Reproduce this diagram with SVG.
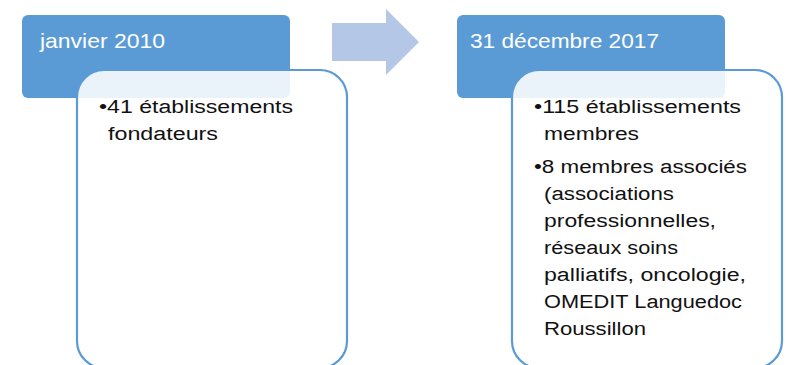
<svg xmlns="http://www.w3.org/2000/svg" width="787" height="365" viewBox="0 0 787 365">
  <style>
    .hdr { fill: #5B9BD5; }
    .box { fill: #FFFFFF; fill-opacity: 0.88; stroke: #5B9BD5; stroke-width: 2.2; }
    .ht { font-family: "Liberation Sans", Arial, sans-serif; font-size: 21px; fill: #FFFFFF; }
    .bt { font-family: "Liberation Sans", Arial, sans-serif; font-size: 18px; fill: #111111; }
    .arrow { fill: #B4C7E7; }
  </style>
  <g id="connectors">
    <polygon class="arrow" points="332,23 386,23 386,9 419,42 386,75 386,61 332,61"/>
  </g>
  <g id="node-2010">
    <rect class="hdr" x="22" y="15" width="268" height="83" rx="6" ry="6"/>
    <text class="ht" x="40" y="48" textLength="125" lengthAdjust="spacingAndGlyphs">janvier 2010</text>
    <rect class="box" x="77" y="70" width="270" height="298" rx="27" ry="27"/>
    <text class="bt" x="99" y="113" textLength="194" lengthAdjust="spacingAndGlyphs">•41 établissements</text>
    <text class="bt" x="108" y="140" textLength="110" lengthAdjust="spacingAndGlyphs">fondateurs</text>
  </g>
  <g id="node-2017">
    <rect class="hdr" x="457" y="15" width="268" height="83" rx="6" ry="6"/>
    <text class="ht" x="470" y="48" textLength="189" lengthAdjust="spacingAndGlyphs">31 décembre 2017</text>
    <rect class="box" x="512" y="70" width="270" height="298" rx="27" ry="27"/>
    <text class="bt" x="534" y="113" textLength="207" lengthAdjust="spacingAndGlyphs">•115 établissements</text>
    <text class="bt" x="544" y="140" textLength="95" lengthAdjust="spacingAndGlyphs">membres</text>
    <text class="bt" x="534" y="173" textLength="213" lengthAdjust="spacingAndGlyphs">•8 membres associés</text>
    <text class="bt" x="544" y="200" textLength="130" lengthAdjust="spacingAndGlyphs">(associations</text>
    <text class="bt" x="544" y="227" textLength="172" lengthAdjust="spacingAndGlyphs">professionnelles,</text>
    <text class="bt" x="544" y="254" textLength="134" lengthAdjust="spacingAndGlyphs">réseaux soins</text>
    <text class="bt" x="544" y="281" textLength="202" lengthAdjust="spacingAndGlyphs">palliatifs, oncologie,</text>
    <text class="bt" x="544" y="308" textLength="198" lengthAdjust="spacingAndGlyphs">OMEDIT Languedoc</text>
    <text class="bt" x="544" y="335" textLength="102" lengthAdjust="spacingAndGlyphs">Roussillon</text>
  </g>
</svg>
